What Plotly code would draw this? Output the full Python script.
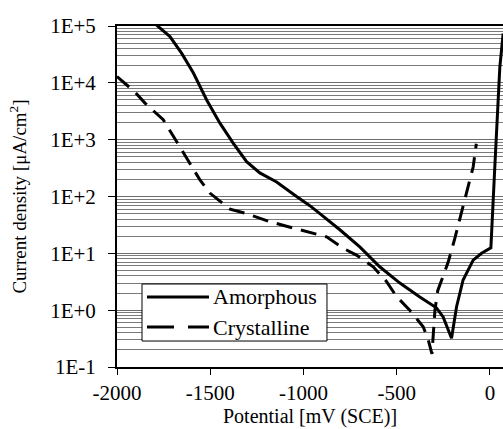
import plotly.graph_objects as go

# Amorphous (solid) – potential [mV] and current density [uA/cm2]
amorph_x = [-1810, -1716, -1653, -1591, -1519, -1448, -1377, -1305, -1234, -1144,
            -1037, -966, -912, -805, -698, -591, -483, -376, -287, -251,
            -206, -179, -144, -90, -45, 5, 26, 53, 71]
amorph_y = [1.2e5, 6.5e4, 3.3e4, 1.5e4, 5.0e3, 1.95e3, 870, 410, 260, 180,
            100, 69, 50, 26, 13, 5.8, 3.0, 1.7, 1.1, 0.76,
            0.32, 1.15, 3.4, 7.6, 10, 12.5, 330, 1.9e4, 7.4e4]

# Crystalline (dashed)
crys_x = [-2000, -1904, -1850, -1752, -1653, -1555, -1502, -1394, -1305, -1180,
          -1091, -984, -876, -787, -716, -626, -555, -501, -430, -358,
          -331, -311, -303, -295, -280, -251, -224, -189, -162, -144,
          -117, -90, -73]
crys_y = [12900, 6900, 4400, 2240, 660, 195, 115, 60, 50, 36,
          30, 24, 19.5, 12.3, 9.3, 5.8, 3.2, 1.74, 1.0, 0.51,
          0.30, 0.17, 0.4, 1.0, 2.2, 4.0, 7.0, 18, 40, 70,
          148, 330, 850]

series_names = ["Amorphous", "Crystalline"]

x_ticks = [-2000, -1500, -1000, -500, 0]
x_tick_text = ["-2000", "-1500", "-1000", "-500", "0"]
y_ticks = [0.1, 1, 10, 100, 1000, 10000, 100000]
y_tick_text = ["1E-1", "1E+0", "1E+1", "1E+2", "1E+3", "1E+4", "1E+5"]
x_title = "Potential [mV (SCE)]"
y_title = "Current density [μA/cm<sup>2</sup>]"

FONT = "'Liberation Serif', 'DejaVu Serif', 'Times New Roman', serif"

fig = go.Figure()
fig.add_trace(go.Scatter(x=amorph_x, y=amorph_y, mode="lines", name=series_names[0],
                         line=dict(color="black", width=3), showlegend=False))
fig.add_trace(go.Scatter(x=crys_x, y=crys_y, mode="lines", name=series_names[1],
                         line=dict(color="black", width=3, dash="16px,9px"),
                         showlegend=False))

# Legend box drawn in paper coordinates (Excel-style long sample lines)
fig.add_shape(type="rect", xref="paper", yref="paper",
              x0=0.0648, x1=0.544, y0=0.0762, y1=0.2434,
              fillcolor="white", line=dict(color="black", width=1), layer="above")
row_y = [0.2053, 0.1173]
dashes = ["solid", "27px,14px"]
for name, ry, dsh in zip(series_names, row_y, dashes):
    fig.add_shape(type="line", xref="paper", yref="paper",
                  x0=0.0777, x1=0.2383, y0=ry, y1=ry,
                  line=dict(color="black", width=3, dash=dsh), layer="above")
    fig.add_annotation(xref="paper", yref="paper", x=0.2435, y=ry,
                       xanchor="left", yanchor="middle", showarrow=False,
                       text=name, font=dict(family=FONT, size=22, color="black"))

# X-axis title placed just under the tick labels, as in the reference
fig.add_annotation(xref="paper", yref="paper", x=0.5, y=-0.146,
                   xanchor="center", yanchor="middle", showarrow=False,
                   text=x_title, font=dict(family=FONT, size=20, color="black"))

fig.update_layout(
    width=503, height=429,
    margin=dict(l=117, r=0, t=26, b=62, autoexpand=False),
    paper_bgcolor="white", plot_bgcolor="white",
    font=dict(family=FONT, color="black", size=18),
    showlegend=False,
)
fig.update_xaxes(range=[-2000, 70], tickvals=x_ticks, ticktext=x_tick_text,
                 ticks="outside", ticklen=6, automargin=False,
                 tickcolor="black", showgrid=False, zeroline=False,
                 showline=True, linecolor="black", linewidth=2, mirror=True,
                 ticklabelstandoff=0,
                 tickfont=dict(family=FONT, size=21, color="black"))
fig.update_yaxes(type="log", range=[-1, 5], tickvals=y_ticks, ticktext=y_tick_text,
                 ticks="outside", ticklen=7, automargin=False,
                 tickcolor="black",
                 showline=True, linecolor="black", linewidth=2, mirror=False,
                 showgrid=True, gridcolor="#6e6e6e", gridwidth=1,
                 minor=dict(showgrid=True, gridcolor="#7a7a7a", gridwidth=1,
                            ticks="", dtick="D1"),
                 zeroline=False, ticklabelstandoff=8,
                 tickfont=dict(family=FONT, size=21, color="black"),
                 title=dict(text=y_title,
                            font=dict(family=FONT, size=19, color="black"), standoff=18))

fig.write_html("out.html", config={"displayModeBar": False},
               post_script="document.body.style.margin='0';document.body.style.overflow='hidden';")
